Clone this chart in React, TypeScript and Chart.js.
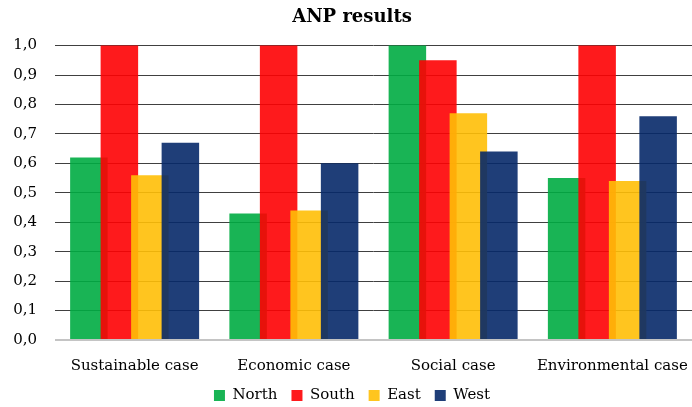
import { useEffect, useRef } from 'react';
import { Chart, registerables } from 'chart.js';

Chart.register(...registerables);

const chartTitle = 'ANP results';
const categories = ['Sustainable case', 'Economic case', 'Social case', 'Environmental case'];
const seriesNames = ['North', 'South', 'East', 'West'];
const north = [0.62, 0.43, 1.0, 0.55];
const south = [1.0, 1.0, 0.95, 1.0];
const east = [0.56, 0.44, 0.77, 0.54];
const west = [0.67, 0.6, 0.64, 0.76];
const yMin = 0;
const yMax = 1;
const yStep = 0.1;

const seriesColors = [
  'rgba(0, 172, 66, 0.9)',
  'rgba(254, 1, 3, 0.9)',
  'rgba(255, 191, 7, 0.9)',
  'rgba(7, 41, 105, 0.9)',
];

const FONT = '"DejaVu Serif", serif';

// Draw the bar series in dataset order so each later series sits on top of the one before it.
const drawInDatasetOrder = {
  id: 'drawInDatasetOrder',
  beforeDatasetsDraw(chart: any) {
    const metas = chart.getSortedVisibleDatasetMetas();
    for (const meta of metas) meta.controller.draw();
    return false;
  },
};

export default function App() {
  const canvasRef = useRef<HTMLCanvasElement | null>(null);

  useEffect(() => {
    if (!canvasRef.current) return;
    const values = [north, south, east, west];
    const chart = new Chart(canvasRef.current, {
      type: 'bar',
      data: {
        labels: categories,
        datasets: seriesNames.map((name, i) => ({
          label: name,
          data: values[i],
          backgroundColor: seriesColors[i],
          borderWidth: 0,
          categoryPercentage: 0.766,
          barPercentage: 1.23,
        })),
      },
      plugins: [drawInDatasetOrder],
      options: {
        animation: false,
        responsive: true,
        maintainAspectRatio: false,
        layout: { padding: { left: 12, right: 0, top: 0, bottom: -6 } },
        plugins: {
          title: {
            display: true,
            text: chartTitle,
            color: '#000',
            font: { family: FONT, size: 18, weight: 'bold' },
            padding: { top: 7, bottom: 17 },
          },
          legend: {
            position: 'bottom',
            labels: {
              boxWidth: 11,
              boxHeight: 11,
              padding: 14,
              color: '#000',
              font: { family: FONT, size: 15 },
            },
          },
          tooltip: { enabled: false },
        },
        scales: {
          x: {
            grid: { display: false, drawTicks: false },
            border: { display: false },
            ticks: { color: '#000', font: { family: FONT, size: 15 }, padding: 17 },
            afterFit: (scale: any) => {
              scale.height = 34;
              // let the outer labels run to the canvas edge instead of shrinking the plot
              scale.paddingLeft = 0;
              scale.paddingRight = 0;
            },
          },
          y: {
            min: yMin,
            max: yMax,
            border: { display: false },
            grid: {
              drawTicks: false,
              color: (ctx: any) => (ctx.tick && ctx.tick.value === 0 ? '#c4c4c4' : '#404040'),
              lineWidth: (ctx: any) => (ctx.tick && ctx.tick.value === 0 ? 2 : 1),
            },
            ticks: {
              stepSize: yStep,
              padding: 18,
              color: '#000',
              font: { family: FONT, size: 15 },
              callback: (v: any) => Number(v).toFixed(1).replace('.', ','),
            },
            afterFit: (scale: any) => {
              scale.width = 43;
            },
          },
        },
      },
    });
    return () => chart.destroy();
  }, []);

  return (
    <div style={{ position: 'fixed', left: 0, top: 0, width: 692, height: 407, background: '#fff' }}>
      <canvas ref={canvasRef} />
    </div>
  );
}
